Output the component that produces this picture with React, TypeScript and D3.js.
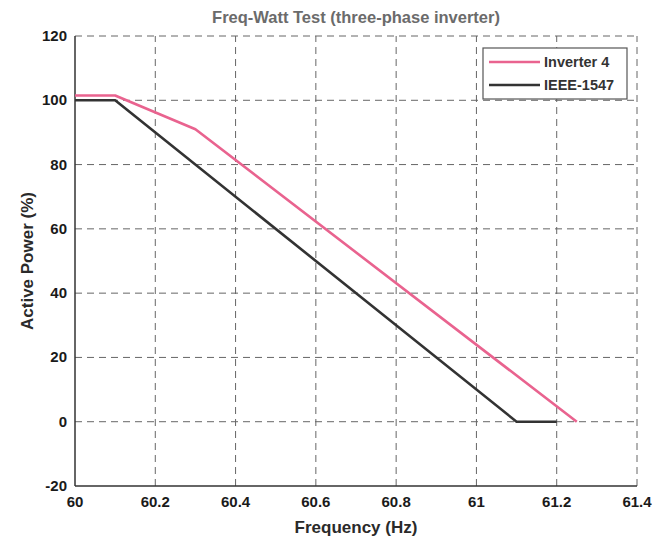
import React from "react";
import * as d3 from "d3";

// Frequency (Hz) vs. active power (%) for each curve
const inverterFreq = [60, 60.1, 60.3, 61.25];
const inverterPower = [101.5, 101.5, 91, 0];
const ieeeFreq = [60, 60.1, 61.1, 61.2];
const ieeePower = [100, 100, 0, 0];

const xTicks = [60, 60.2, 60.4, 60.6, 60.8, 61, 61.2, 61.4];
const yTicks = [-20, 0, 20, 40, 60, 80, 100, 120];

const seriesNames = ["Inverter 4", "IEEE-1547"];
const seriesColors = ["#e9638f", "#333333"];

const W = 660;
const H = 541;
const M = { left: 75, right: 23, top: 36, bottom: 55 };

export default function App() {
  const x = d3.scaleLinear().domain([60, 61.4]).range([M.left, W - M.right]);
  const y = d3.scaleLinear().domain([-20, 120]).range([H - M.bottom, M.top]);
  const line = d3
    .line<[number, number]>()
    .x((d) => x(d[0]))
    .y((d) => y(d[1]));

  const series = [
    inverterFreq.map((f, i) => [f, inverterPower[i]] as [number, number]),
    ieeeFreq.map((f, i) => [f, ieeePower[i]] as [number, number]),
  ];

  const font = "'Liberation Sans', Arial, sans-serif";
  const x0 = x(60);
  const x1 = x(61.4);
  const y0 = y(-20);
  const y1 = y(120);

  const legX = 483;
  const legY = 48;

  return (
    <svg
      width={W}
      height={H}
      style={{ position: "absolute", left: 0, top: 0, background: "#fff" }}
      fontFamily={font}
    >
      {/* grid */}
      {xTicks.slice(1).map((t) => (
        <line
          key={"gx" + t}
          x1={x(t)}
          x2={x(t)}
          y1={y0}
          y2={y1}
          stroke="#666"
          strokeWidth={1}
          strokeDasharray="7,5"
        />
      ))}
      {yTicks.slice(1).map((t) => (
        <line
          key={"gy" + t}
          x1={x0}
          x2={x1}
          y1={y(t)}
          y2={y(t)}
          stroke="#666"
          strokeWidth={1}
          strokeDasharray="7,5"
        />
      ))}

      {/* axes */}
      <line x1={x0} x2={x0} y1={y0} y2={y1} stroke="#333" strokeWidth={1.5} />
      <line x1={x0} x2={x1} y1={y0} y2={y0} stroke="#333" strokeWidth={1.5} />

      {/* tick labels */}
      {xTicks.map((t) => (
        <text
          key={"tx" + t}
          x={x(t)}
          y={y0 + 21}
          textAnchor="middle"
          fontSize={15}
          fontWeight="bold"
          fill="#1a1a1a"
        >
          {d3.format("~g")(t)}
        </text>
      ))}
      {yTicks.map((t) => (
        <text
          key={"ty" + t}
          x={x0 - 8}
          y={y(t) + 5}
          textAnchor="end"
          fontSize={15}
          fontWeight="bold"
          fill="#1a1a1a"
        >
          {t}
        </text>
      ))}

      {/* data */}
      {series.map((s, i) => (
        <path
          key={"s" + i}
          d={line(s) || ""}
          fill="none"
          stroke={seriesColors[i]}
          strokeWidth={2.6}
          strokeLinejoin="round"
        />
      ))}

      {/* legend */}
      <rect
        x={legX}
        y={legY}
        width={144}
        height={51}
        fill="#fff"
        stroke="#555"
        strokeWidth={1.2}
      />
      {seriesNames.map((n, i) => (
        <g key={"l" + i}>
          <line
            x1={legX + 6}
            x2={legX + 57}
            y1={legY + 14 + i * 23}
            y2={legY + 14 + i * 23}
            stroke={seriesColors[i]}
            strokeWidth={2.6}
          />
          <text
            x={legX + 61}
            y={legY + 19 + i * 23}
            fontSize={14.5}
            fontWeight="bold"
            fill="#333"
          >
            {n}
          </text>
        </g>
      ))}

      {/* titles */}
      <text
        x={(x0 + x1) / 2}
        y={23}
        textAnchor="middle"
        fontSize={16.5}
        fontWeight="bold"
        fill="#6b6b6b"
      >
        Freq-Watt Test (three-phase inverter)
      </text>
      <text
        x={(x0 + x1) / 2}
        y={533}
        textAnchor="middle"
        fontSize={17}
        fontWeight="bold"
        fill="#2a2a2a"
      >
        Frequency (Hz)
      </text>
      <text
        transform={`translate(33,${(y0 + y1) / 2}) rotate(-90)`}
        textAnchor="middle"
        fontSize={17}
        fontWeight="bold"
        fill="#2a2a2a"
      >
        Active Power (%)
      </text>
    </svg>
  );
}
